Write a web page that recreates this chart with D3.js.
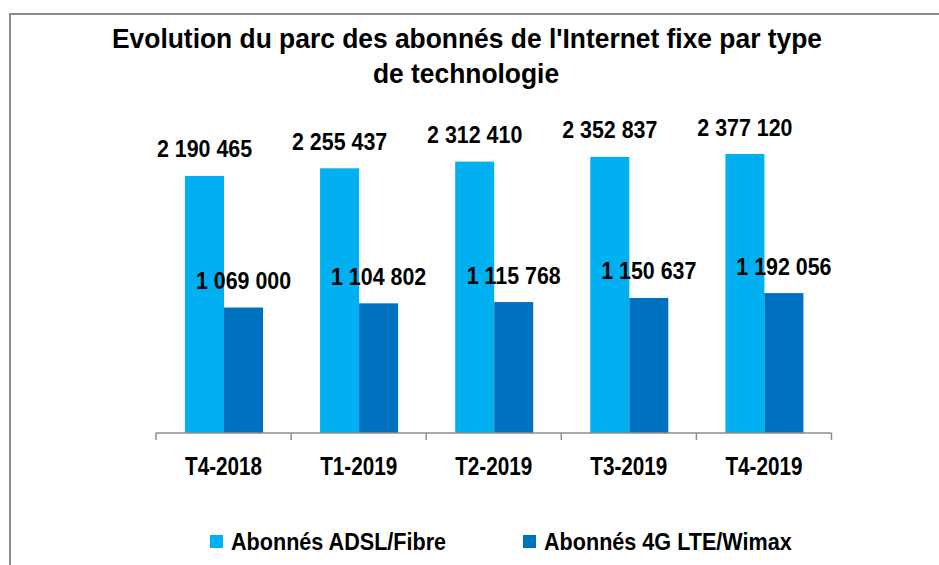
<!doctype html>
<html>
  <head>
    <meta charset="utf-8">
    <title>Evolution du parc des abonnés de l'Internet fixe</title>
    <script src="https://cdnjs.cloudflare.com/ajax/libs/d3/7.8.5/d3.min.js"></script>
    <style>
      body { margin: 0; background: #fff; }
      text { font-family: "Liberation Sans", Arial, sans-serif; font-weight: bold; fill: #000; }
    </style>
  </head>
  <body>
    <div id="chart"></div>
    <script>
      // donnees
      const trimestres = ['T4-2018', 'T1-2019', 'T2-2019', 'T3-2019', 'T4-2019'];
      const series = ['Abonnés ADSL/Fibre', 'Abonnés 4G LTE/Wimax'];
      const adsl = [2190465, 2255437, 2312410, 2352837, 2377120];
      const lte = [1069000, 1104802, 1115768, 1150637, 1192056];
      const couleurs = ['#00b0f0', '#0070c0'];

      const W = 939, H = 565;
      const svg = d3.select('#chart').append('svg')
        .attr('width', W)
        .attr('height', H);

      // cadre
      svg.append('rect')
        .attr('x', 10).attr('y', 14)
        .attr('width', 960).attr('height', 600)
        .attr('fill', 'none')
        .attr('stroke', '#8c8c8c')
        .attr('stroke-width', 2);

      // petite fonction pour le texte un peu etire en hauteur
      function label(g, x, yy, size, sy, txt, anchor) {
        g.append('text')
          .attr('transform', `translate(${x},${yy}) scale(1,${sy})`)
          .attr('text-anchor', anchor || 'middle')
          .style('font-size', size + 'px')
          .text(txt);
      }

      // titre
      label(svg, 467, 48, 26.4, 1.06, "Evolution du parc des abonnés de l'Internet fixe par type");
      label(svg, 466, 83, 26.4, 1.06, 'de technologie');

      // echelles
      const x0 = d3.scaleBand().domain(trimestres).range([156, 831.5]);
      const x1 = d3.scaleBand().domain(series).range([29, 107]);
      const y = d3.scaleLinear().domain([0, 2500000]).range([433, 139.6]);

      const fmt = v => d3.format(',')(v).replace(/,/g, ' ');

      const rows = trimestres.map((t, i) => ({ t, vals: [adsl[i], lte[i]] }));

      const groups = svg.selectAll('g.grp')
        .data(rows)
        .join('g')
        .attr('class', 'grp')
        .attr('transform', d => `translate(${x0(d.t)},0)`);

      groups.selectAll('rect')
        .data(d => d.vals.map((v, j) => ({ s: series[j], v, j })))
        .join('rect')
        .attr('x', d => x1(d.s))
        .attr('y', d => y(d.v))
        .attr('width', x1.bandwidth())
        .attr('height', d => y(0) - y(d.v))
        .attr('fill', d => couleurs[d.j]);

      groups.each(function(d) {
        const g = d3.select(this);
        d.vals.forEach((v, j) => {
          label(g, x1(series[j]) + x1.bandwidth() / 2, y(v) - 18.5, 21.4, 1.13, fmt(v));
        });
      });

      // axe horizontal
      const axe = svg.append('g');
      axe.append('line')
        .attr('x1', x0.range()[0]).attr('x2', x0.range()[1])
        .attr('y1', 433).attr('y2', 433)
        .attr('stroke', '#8c8c8c').attr('stroke-width', 1.5);
      const bornes = trimestres.map(t => x0(t)).concat([x0.range()[1]]);
      axe.selectAll('line.tick')
        .data(bornes)
        .join('line')
        .attr('class', 'tick')
        .attr('x1', d => d).attr('x2', d => d)
        .attr('y1', 433).attr('y2', 440)
        .attr('stroke', '#8c8c8c').attr('stroke-width', 1.5);
      trimestres.forEach(t => {
        label(axe, x0(t) + x0.bandwidth() / 2, 475, 20.7, 1.24, t);
      });

      // legende
      const leg = svg.append('g');
      const legX = [210, 523];
      series.forEach((s, j) => {
        leg.append('rect')
          .attr('x', legX[j]).attr('y', 535)
          .attr('width', 13).attr('height', 13)
          .attr('fill', couleurs[j]);
        label(leg, legX[j] + 21, 550, 21.6, 1.12, s, 'start');
      });
    </script>
  </body>
</html>
